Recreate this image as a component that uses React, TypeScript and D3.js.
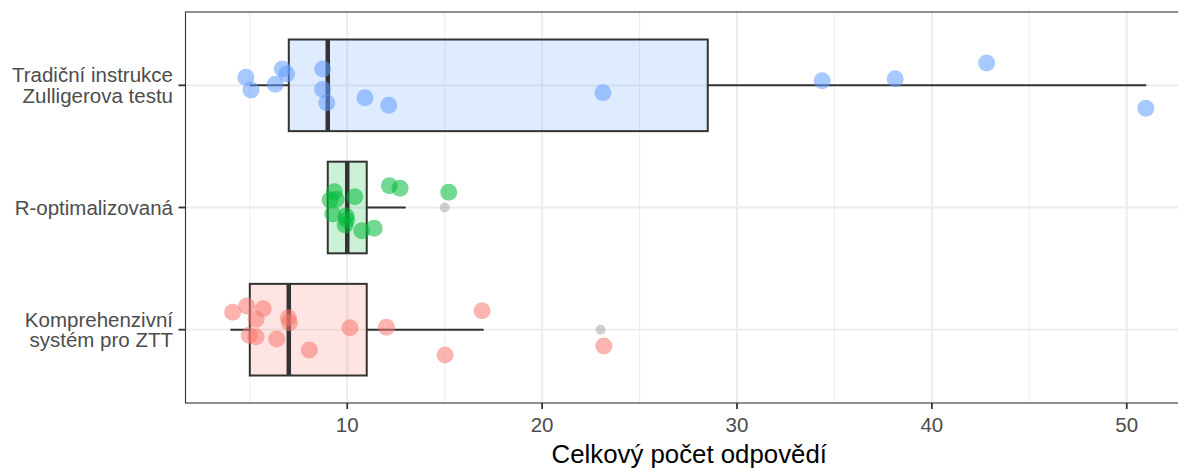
import React, { useEffect, useRef } from "react";
import * as d3 from "d3";

// categories from bottom to top (ggplot coord_flip order)
const categories = ["Komprehenzivní\nsystém pro ZTT", "R-optimalizovaná", "Tradiční instrukce\nZulligerova testu"];
const colors = ["#F8766D", "#00BA38", "#619CFF"];

// box stats: [lower whisker, q1, median, q3, upper whisker]
const boxStats = [
  [4, 5, 7, 11, 17],
  [9, 9, 10, 11, 13],
  [5, 7, 9, 28.5, 51],
];
const outliers = [[23], [15], []];

// jittered points: x value and vertical offset (category units)
const komprePoints = [
  [4.12, 0.142], [4.84, 0.194], [5.69, 0.172], [5.32, 0.085], [4.97, -0.046],
  [5.32, -0.057], [6.38, -0.076], [6.98, 0.098], [7.03, 0.057], [8.05, -0.166],
  [10.14, 0.016], [12.01, 0.02], [15.02, -0.207], [16.92, 0.155], [23.17, -0.133],
];
const roptPoints = [
  [9.34, 0.129], [9.12, 0.061], [9.43, 0.067], [9.26, -0.053], [9.94, -0.07],
  [9.97, -0.102], [9.89, -0.143], [10.39, 0.088], [10.74, -0.19], [11.38, -0.17],
  [12.16, 0.178], [12.71, 0.157], [15.21, 0.124],
];
const tradPoints = [
  [4.8, 0.065], [5.06, -0.038], [6.31, 0.008], [6.67, 0.133], [6.89, 0.092],
  [8.74, 0.133], [8.74, -0.033], [8.95, -0.142], [10.91, -0.101], [12.13, -0.164],
  [23.12, -0.061], [34.37, 0.038], [38.12, 0.054], [42.81, 0.182], [50.98, -0.188],
];
const points = [komprePoints, roptPoints, tradPoints];

const majorTicks = [10, 20, 30, 40, 50];
const minorTicks = [5, 15, 25, 35, 45];

const FONT = "'Liberation Sans', Arial, sans-serif";

export default function App() {
  const ref = useRef<SVGSVGElement>(null);

  useEffect(() => {
    const svg = d3.select(ref.current);
    svg.selectAll("*").remove();

    const panel = { left: 185.5, top: 12, right: 1193, bottom: 403 };

    const x = d3.scaleLinear().domain([1.7, 53.4]).range([panel.left, panel.right]);
    const y = d3.scaleLinear().domain([0.4, 3.6]).range([panel.bottom, panel.top]);
    const half = 0.375;

    svg.append("defs").append("clipPath").attr("id", "panel-clip")
      .append("rect")
      .attr("x", panel.left).attr("y", panel.top)
      .attr("width", panel.right - panel.left).attr("height", panel.bottom - panel.top);

    svg.append("rect")
      .attr("x", panel.left).attr("y", panel.top)
      .attr("width", panel.right - panel.left).attr("height", panel.bottom - panel.top)
      .attr("fill", "white");

    const g = svg.append("g").attr("clip-path", "url(#panel-clip)");

    // grid
    g.selectAll(".minor").data(minorTicks).enter().append("line")
      .attr("x1", (d) => x(d)).attr("x2", (d) => x(d))
      .attr("y1", panel.top).attr("y2", panel.bottom)
      .attr("stroke", "#EBEBEB").attr("stroke-width", 0.9);
    g.selectAll(".major").data(majorTicks).enter().append("line")
      .attr("x1", (d) => x(d)).attr("x2", (d) => x(d))
      .attr("y1", panel.top).attr("y2", panel.bottom)
      .attr("stroke", "#EBEBEB").attr("stroke-width", 1.8);
    g.selectAll(".hmajor").data(categories).enter().append("line")
      .attr("x1", panel.left).attr("x2", panel.right)
      .attr("y1", (d, i) => y(i + 1)).attr("y2", (d, i) => y(i + 1))
      .attr("stroke", "#EBEBEB").attr("stroke-width", 1.8);

    // boxplots
    boxStats.forEach((s, i) => {
      const c = i + 1;
      const [lo, q1, med, q3, hi] = s;
      g.append("line")
        .attr("x1", x(lo)).attr("x2", x(q1)).attr("y1", y(c)).attr("y2", y(c))
        .attr("stroke", "#333").attr("stroke-width", 2);
      g.append("line")
        .attr("x1", x(q3)).attr("x2", x(hi)).attr("y1", y(c)).attr("y2", y(c))
        .attr("stroke", "#333").attr("stroke-width", 2);
      g.append("rect")
        .attr("x", x(q1)).attr("y", y(c + half))
        .attr("width", x(q3) - x(q1)).attr("height", y(c - half) - y(c + half))
        .attr("fill", colors[i]).attr("fill-opacity", 0.2)
        .attr("stroke", "#333").attr("stroke-width", 2);
      g.append("line")
        .attr("x1", x(med)).attr("x2", x(med))
        .attr("y1", y(c + half)).attr("y2", y(c - half))
        .attr("stroke", "#333").attr("stroke-width", 4.5);
      g.selectAll(null).data(outliers[i]).enter().append("circle")
        .attr("cx", (d) => x(d)).attr("cy", y(c)).attr("r", 5)
        .attr("fill", "#8a8a8a").attr("fill-opacity", 0.4);
    });

    // jittered points
    points.forEach((pts, i) => {
      g.selectAll(null).data(pts).enter().append("circle")
        .attr("cx", (d) => x(d[0]))
        .attr("cy", (d) => y(i + 1 + d[1]))
        .attr("r", 8.5)
        .attr("fill", colors[i])
        .attr("fill-opacity", 0.55);
    });

    // panel border
    svg.append("rect")
      .attr("x", panel.left).attr("y", panel.top)
      .attr("width", panel.right - panel.left).attr("height", panel.bottom - panel.top)
      .attr("fill", "none").attr("stroke", "#333").attr("stroke-width", 1.1);

    // x axis ticks + labels
    svg.selectAll(".xtick").data(majorTicks).enter().append("line")
      .attr("x1", (d) => x(d)).attr("x2", (d) => x(d))
      .attr("y1", panel.bottom).attr("y2", panel.bottom + 6)
      .attr("stroke", "#333").attr("stroke-width", 1.8);
    svg.selectAll(".xlab").data(majorTicks).enter().append("text")
      .attr("x", (d) => x(d)).attr("y", 432)
      .attr("text-anchor", "middle")
      .style("font-family", FONT).style("font-size", "20.5px")
      .attr("fill", "#4D4D4D")
      .text((d) => d);

    // y axis ticks + labels
    categories.forEach((cat, i) => {
      const cy = y(i + 1);
      svg.append("line")
        .attr("x1", panel.left - 7).attr("x2", panel.left)
        .attr("y1", cy).attr("y2", cy)
        .attr("stroke", "#333").attr("stroke-width", 1.8);
      const lines = cat.split("\n");
      const t = svg.append("text")
        .attr("text-anchor", "end")
        .style("font-family", FONT).style("font-size", "20.5px")
        .attr("fill", "#4D4D4D");
      lines.forEach((ln, k) => {
        const base = lines.length === 1 ? cy + 7 : cy - 3 + k * 20.8;
        t.append("tspan").attr("x", 173).attr("y", base).text(ln);
      });
    });

    // x axis title
    svg.append("text")
      .attr("x", (panel.left + panel.right) / 2).attr("y", 463)
      .attr("text-anchor", "middle")
      .style("font-family", FONT).style("font-size", "25.8px")
      .attr("fill", "black")
      .text("Celkový počet odpovědí");
  }, []);

  return (
    <svg
      ref={ref}
      width={1178}
      height={468}
      style={{ position: "absolute", left: 0, top: 0, background: "white" }}
    />
  );
}
